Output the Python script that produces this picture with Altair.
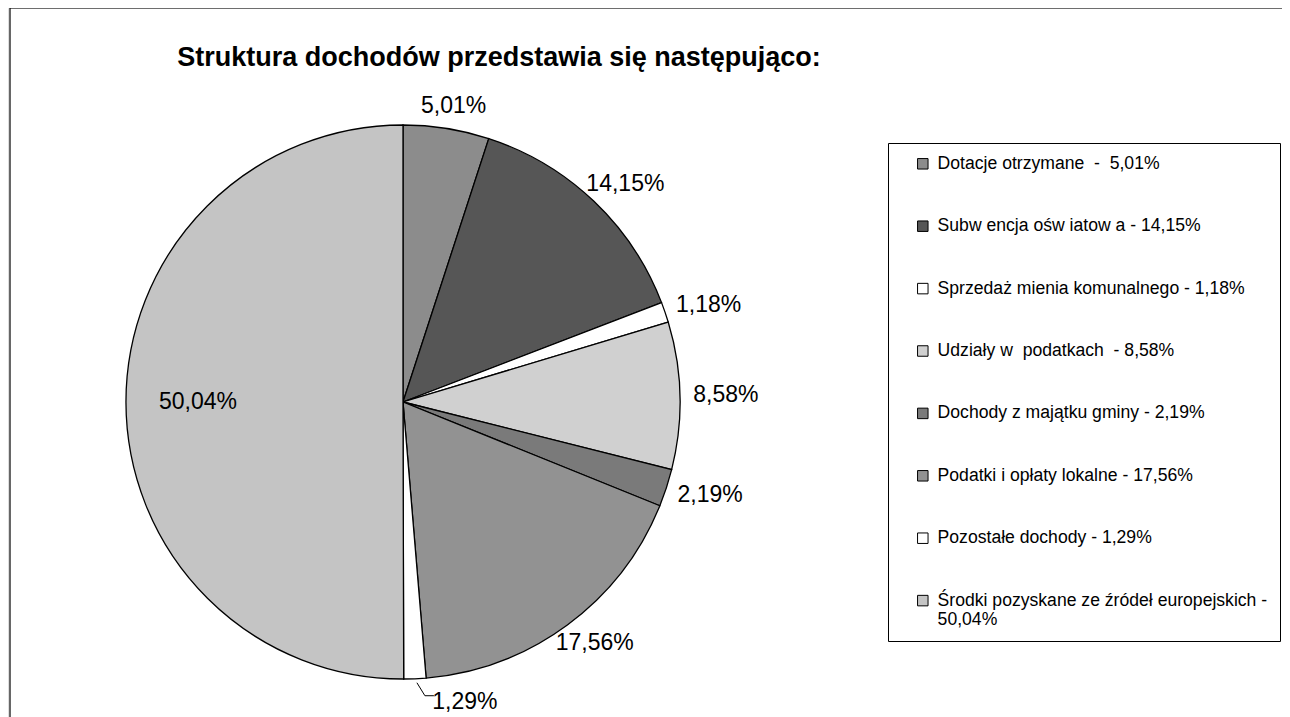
import math
import altair as alt
import pandas as pd

# ---------------- data ----------------
title_text = "Struktura dochodów przedstawia się następująco:"
categories = [
    "Dotacje otrzymane",
    "Subwencja oświatowa",
    "Sprzedaż mienia komunalnego",
    "Udziały w podatkach",
    "Dochody z majątku gminy",
    "Podatki i opłaty lokalne",
    "Pozostałe dochody",
    "Środki pozyskane ze źródeł europejskich",
]
legend_labels = [
    "Dotacje otrzymane  -  5,01%",
    "Subw encja ośw iatow a - 14,15%",
    "Sprzedaż mienia komunalnego - 1,18%",
    "Udziały w  podatkach  - 8,58%",
    "Dochody z majątku gminy - 2,19%",
    "Podatki i opłaty lokalne - 17,56%",
    "Pozostałe dochody - 1,29%",
    "Środki pozyskane ze źródeł europejskich -|50,04%",
]
values = [5.01, 14.15, 1.18, 8.58, 2.19, 17.56, 1.29, 50.04]
pct_labels = ["5,01%", "14,15%", "1,18%", "8,58%", "2,19%", "17,56%", "1,29%", "50,04%"]
colors = ["#8c8c8c", "#565656", "#ffffff", "#d0d0d0", "#7a7a7a", "#929292", "#ffffff", "#c4c4c4"]

# keep visible double spaces (SVG collapses ordinary ones)
legend_shown = [s.replace("  ", "\u00a0\u00a0") for s in legend_labels]

df = pd.DataFrame({
    "idx": list(range(len(categories))),
    "category": categories,
    "legend": legend_shown,
    "value": values,
    "label": pct_labels,
})

# ---------------- layout ----------------
W, H = 1274, 709
CX, CY, R = 395, 394, 277
GAP, HW, HH = 12, 34, 11
PULL = 48
FONT = "Liberation Sans"

base = alt.Chart(df)

pie = base.mark_arc(radius=R, stroke="black", strokeWidth=1.3).encode(
    theta=alt.Theta("value:Q", stack=True),
    color=alt.Color(
        "legend:N",
        scale=alt.Scale(domain=legend_shown, range=colors),
        legend=alt.Legend(
            title=None,
            orient="none",
            legendX=880,
            legendY=135,
            padding=12,
            symbolOffset=14,
            symbolType="square",
            symbolSize=110,
            symbolStrokeColor="black",
            symbolStrokeWidth=1,
            labelFont=FONT,
            labelFontSize=17.6,
            labelColor="black",
            labelOffset=6,
            labelLimit=0,
            rowPadding=43.4,
            strokeColor="black",
            labelExpr="split(datum.label, '|')",
        ),
    ),
    order=alt.Order("idx:Q", sort="ascending"),
    x=alt.value(CX),
    y=alt.value(CY),
)

geo = base.transform_window(
    cum="sum(value)", sort=[alt.SortField("idx", order="ascending")], frame=[None, 0]
).transform_joinaggregate(total="sum(value)").transform_calculate(
    mid="(datum.cum - datum.value / 2) / datum.total * 2 * PI"
).transform_calculate(
    s="sin(datum.mid)",
    c="cos(datum.mid)",
    inside="datum.value > 40 ? 1 : 0",
    pulled="(datum.value < 1.5 && cos(datum.mid) < -0.95) ? 1 : 0",
).transform_calculate(
    lx=f"datum.inside ? {CX} + {R * 0.74} * datum.s : {CX} + {R + GAP + HW} * datum.s + datum.pulled * {PULL}",
    ly=f"datum.inside ? {CY} - {R * 0.74} * datum.c : {CY} - {R + GAP + HH} * datum.c",
    ex=f"{CX} + {R} * datum.s + 2",
    ey=f"{CY} - {R} * datum.c + 4",
).transform_calculate(
    kx="datum.ex + 8",
    ky="datum.ly - 6",
    tx="datum.lx - 31",
)

labels = geo.mark_text(font=FONT, fontSize=23, color="black").encode(
    x=alt.X("lx:Q", scale=None, axis=None),
    y=alt.Y("ly:Q", scale=None, axis=None),
    text="label:N",
)

leader1 = geo.transform_filter("datum.pulled == 1").mark_rule(color="black", strokeWidth=1).encode(
    x=alt.X("ex:Q", scale=None, axis=None),
    y=alt.Y("ey:Q", scale=None, axis=None),
    x2="kx:Q",
    y2="ky:Q",
)
leader2 = geo.transform_filter("datum.pulled == 1").mark_rule(color="black", strokeWidth=1).encode(
    x=alt.X("kx:Q", scale=None, axis=None),
    y=alt.Y("ky:Q", scale=None, axis=None),
    x2="tx:Q",
    y2="ky:Q",
)

one = alt.Chart(pd.DataFrame({"t": [title_text]}))
title = one.mark_text(font=FONT, fontSize=27, fontWeight="bold", color="black").encode(
    x=alt.value(491), y=alt.value(50), text="t:N"
)
frame_left = one.mark_rule(color="black", strokeWidth=1.2).encode(
    x=alt.value(2), y=alt.value(0), y2=alt.value(H)
)
frame_top = one.mark_rule(color="black", strokeWidth=1.2).encode(
    x=alt.value(2), x2=alt.value(W), y=alt.value(0)
)

chart = alt.layer(pie, labels, leader1, leader2, title, frame_left, frame_top).properties(
    width=W, height=H, autosize=alt.AutoSizeParams(type="none"), padding=0
).configure_view(stroke=None).configure(background="white")

chart.save("out.html", embed_options={"renderer": "svg", "actions": False})
